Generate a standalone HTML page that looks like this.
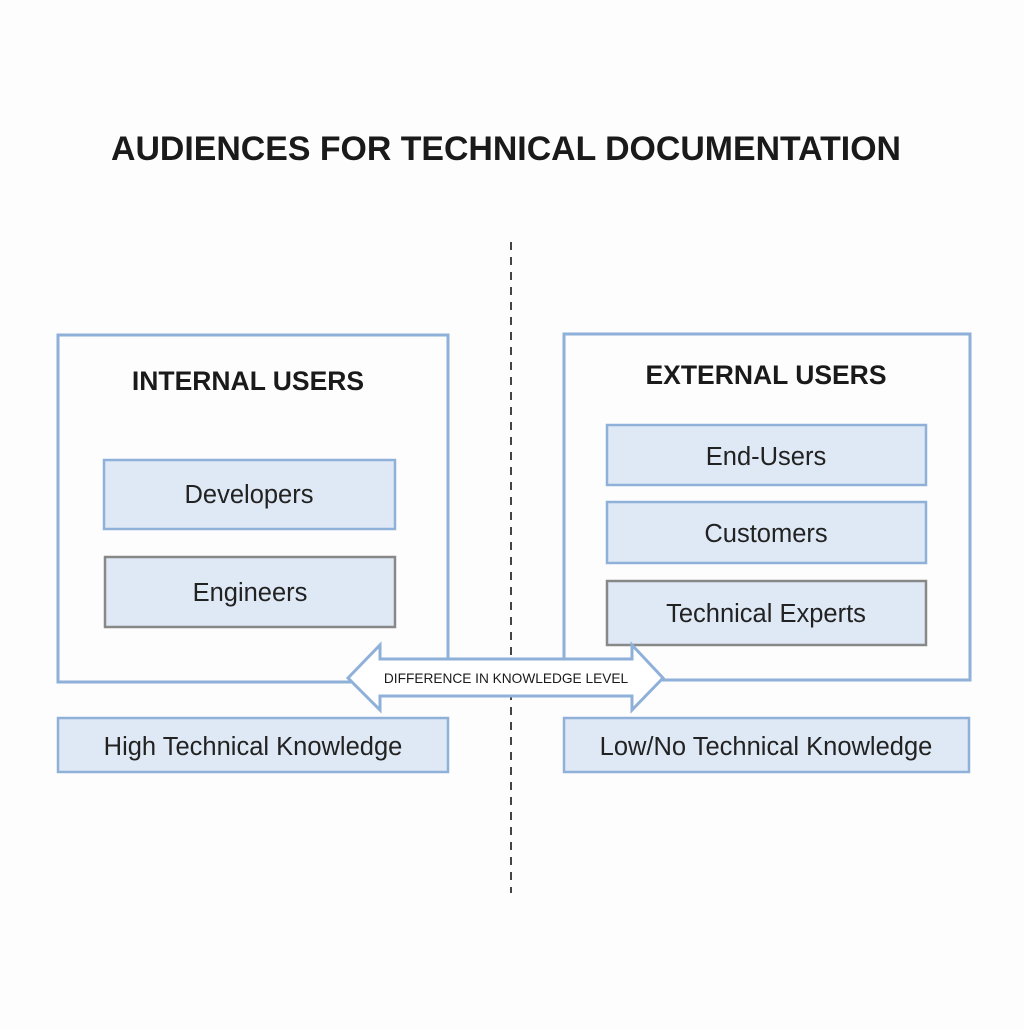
<!DOCTYPE html>
<html><head><meta charset="utf-8"><style>html,body{margin:0;padding:0;background:#fdfdfd}</style></head>
<body>
<svg width="1024" height="1024" xmlns="http://www.w3.org/2000/svg" font-family="'Liberation Sans', 'DejaVu Sans', sans-serif">
<rect width="1024" height="1024" fill="#fdfdfd"/>
<text x="506" y="160" text-anchor="middle" font-size="34" font-weight="bold" fill="#1a1a1a" textLength="790" lengthAdjust="spacingAndGlyphs">AUDIENCES FOR TECHNICAL DOCUMENTATION</text>
<line x1="511" y1="242" x2="511" y2="893" stroke="#444" stroke-width="2" stroke-dasharray="8,7"/>
<rect x="58" y="335" width="390" height="347" fill="none" stroke="#8fb0d8" stroke-width="3"/>
<rect x="564" y="334" width="406" height="346" fill="none" stroke="#8fb0d8" stroke-width="3"/>
<text x="248" y="390" text-anchor="middle" font-size="26.5" font-weight="bold" fill="#1a1a1a">INTERNAL USERS</text>
<text x="766" y="384" text-anchor="middle" font-size="26.5" font-weight="bold" fill="#1a1a1a">EXTERNAL USERS</text>
<g font-size="25.5" fill="#222" text-anchor="middle">
<rect x="104" y="460" width="291" height="69" fill="#dfe9f5" stroke="#8fb0d8" stroke-width="2.5"/>
<text x="249" y="503">Developers</text>
<rect x="105" y="557" width="290" height="70" fill="#dfe9f5" stroke="#888" stroke-width="2.5"/>
<text x="250" y="601">Engineers</text>
<rect x="607" y="425" width="319" height="60" fill="#dfe9f5" stroke="#8fb0d8" stroke-width="2.5"/>
<text x="766" y="465">End-Users</text>
<rect x="607" y="502" width="319" height="61" fill="#dfe9f5" stroke="#8fb0d8" stroke-width="2.5"/>
<text x="766" y="542">Customers</text>
<rect x="607" y="581" width="319" height="64" fill="#dfe9f5" stroke="#888" stroke-width="2.5"/>
<text x="766" y="622">Technical Experts</text>
<rect x="58" y="718" width="390" height="54" fill="#dfe9f5" stroke="#8fb0d8" stroke-width="2.5"/>
<text x="253" y="755">High Technical Knowledge</text>
<rect x="564" y="718" width="405" height="54" fill="#dfe9f5" stroke="#8fb0d8" stroke-width="2.5"/>
<text x="766" y="755">Low/No Technical Knowledge</text>
</g>
<polygon points="348,678 380,645 380,659 632,659 632,645 663,678 632,710 632,696 380,696 380,710" fill="#fff" stroke="#8fb0d8" stroke-width="3" stroke-linejoin="miter"/>
<text x="506" y="683" text-anchor="middle" font-size="13.7" fill="#1a1a1a">DIFFERENCE IN KNOWLEDGE LEVEL</text>
</svg>
</body></html>
